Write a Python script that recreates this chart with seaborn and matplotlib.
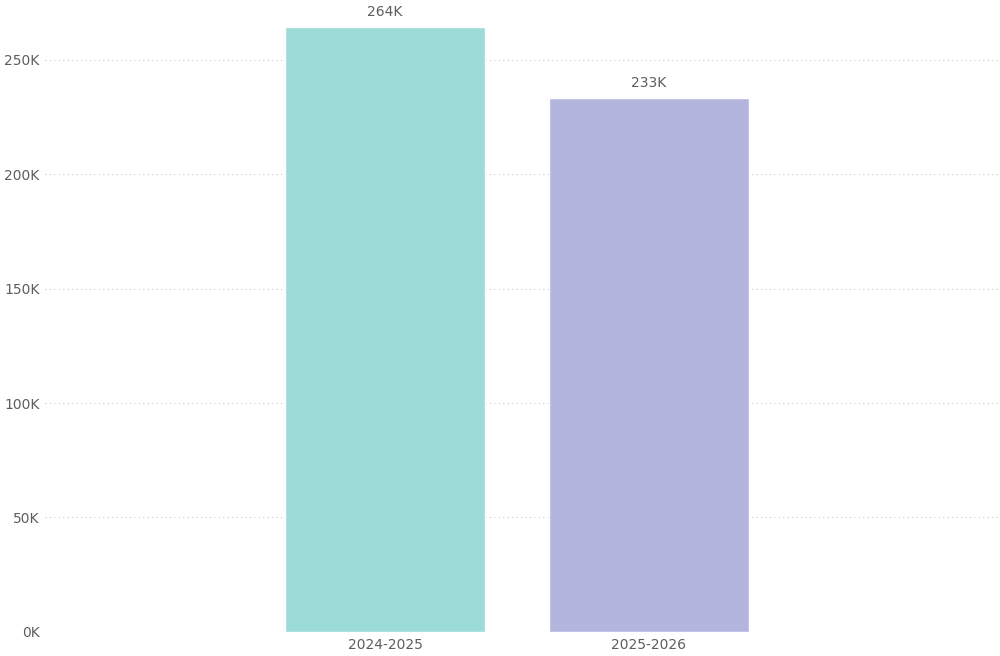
import matplotlib
matplotlib.use("Agg")
import matplotlib.pyplot as plt
import seaborn as sns
import pandas as pd

# Data
seasons = ["2024-2025", "2025-2026"]
totals = [264000, 233000]
labels = ["264K", "233K"]
colors = ["#9BDCD9", "#B3B5DF"]

df = pd.DataFrame({"season": seasons, "total": totals})

sns.set_style("white")
plt.rcParams['font.family'] = ['Segoe UI', 'DejaVu Sans']

fig = plt.figure(figsize=(10, 6.56), dpi=100)
ax = fig.add_axes([0.045, 0.0366, 0.955, 0.9634])

sns.barplot(data=df, x="season", y="total", hue="season", palette=colors,
            width=0.758, legend=False, ax=ax, saturation=1)

ax.set_ylim(0, 276000)
ax.set_xlim(-1.288, 2.33)
ax.set_yticks([0, 50000, 100000, 150000, 200000, 250000])
ax.set_yticklabels(["0K", "50K", "100K", "150K", "200K", "250K"])
ax.yaxis.grid(True, linestyle=(0, (1, 3)), color="#c8c8c8", linewidth=0.8)
ax.set_axisbelow(True)
for s in ax.spines.values():
    s.set_visible(False)
ax.tick_params(axis="both", length=0, labelsize=10, colors="#605E5C", pad=4)
ax.set_xlabel("")
ax.set_ylabel("")

for i, (v, lab) in enumerate(zip(totals, labels)):
    ax.annotate(lab, (i, v), xytext=(0, 6), textcoords="offset points",
                ha="center", va="bottom", fontsize=10, color="#605E5C")

fig.savefig("out.png", dpi=100)
